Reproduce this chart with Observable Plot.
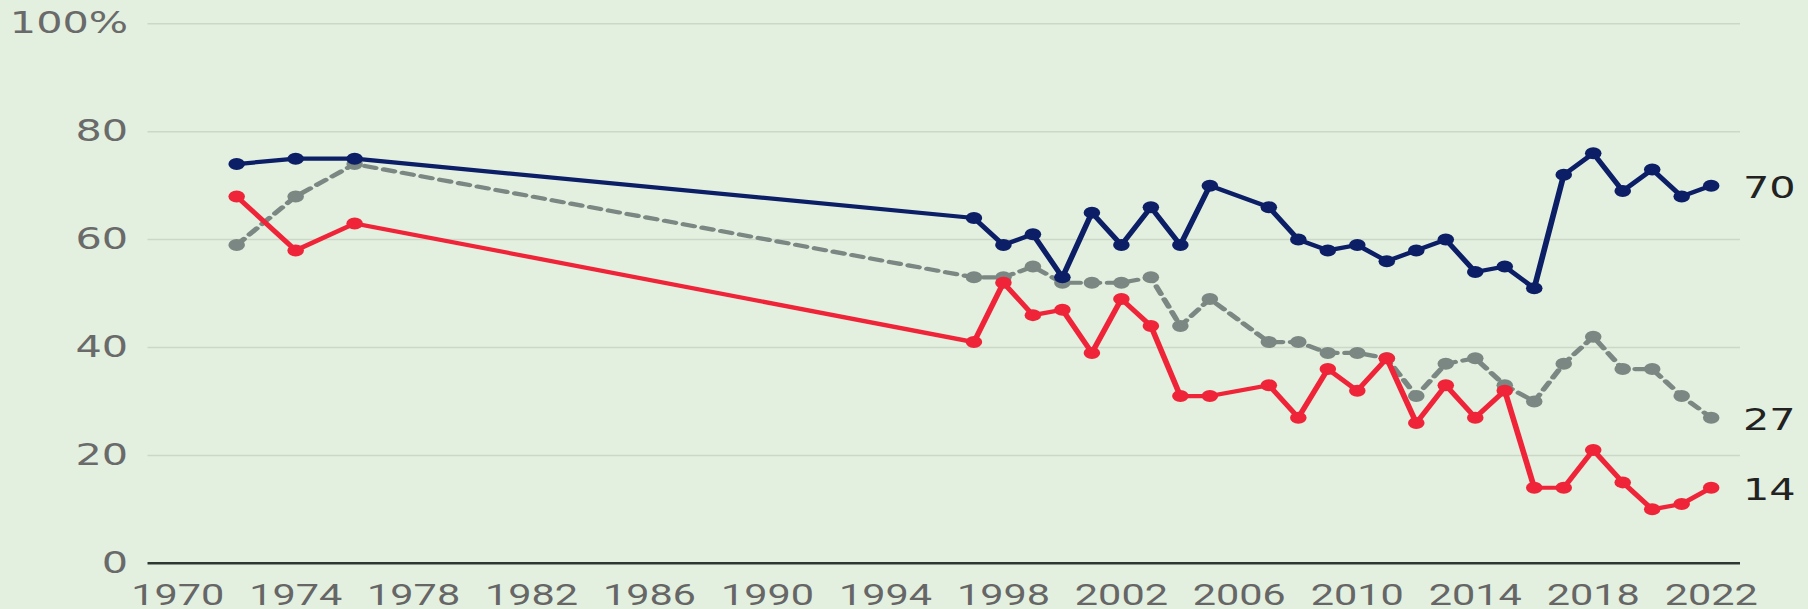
<!DOCTYPE html>
<html>
<head>
<meta charset="utf-8">
<script src="https://cdn.jsdelivr.net/npm/d3@7"></script>
<script src="https://cdn.jsdelivr.net/npm/@observablehq/plot@0.6"></script>
<style>
  html, body { margin: 0; padding: 0; background: #e3f0df; }
  #chart svg { display: block; }
</style>
</head>
<body>
<div id="chart"></div>
<script>
// Survey years
const years = [1972, 1974, 1976, 1997, 1998, 1999, 2000, 2001, 2002, 2003, 2004, 2005,
  2007, 2008, 2009, 2010, 2011, 2012, 2013, 2014, 2015, 2016, 2017, 2018, 2019, 2020, 2021, 2022];
// Series values (%)
const democrats = [74, 75, 75, 64, 59, 61, 53, 65, 59, 66, 59, 70,
  66, 60, 58, 59, 56, 58, 60, 54, 55, 51, 72, 76, 69, 73, 68, 70];
const independents = [59, 68, 74, 53, 53, 55, 52, 52, 52, 53, 44, 49,
  41, 41, 39, 39, 38, 31, 37, 38, 33, 30, 37, 42, 36, 36, 31, 27];
const republicans = [68, 58, 63, 41, 52, 46, 47, 39, 49, 44, 31, 31,
  33, 27, 36, 32, 38, 26, 33, 27, 32, 14, 14, 21, 15, 10, 11, 14];
// Axis ticks
const xTicks = [1970, 1974, 1978, 1982, 1986, 1990, 1994, 1998, 2002, 2006, 2010, 2014, 2018, 2022];
const yTicks = [0, 20, 40, 60, 80, 100];

const seriesNames = ["Independents", "Republicans", "Democrats"];
const seriesValues = [independents, republicans, democrats];
const seriesColors = ["#7b8782", "#ef2439", "#0b1e66"];

const rowsFor = (vals, name) => years.map((yr, i) => ({ year: yr, value: vals[i], series: name }));
const allRows = seriesNames.map((n, k) => rowsFor(seriesValues[k], n));
const endRows = allRows.map(rows => rows[rows.length - 1]);

const S = 1.38;               // horizontal stretch of the original artwork
const W = Math.round(1808 / S);

const lineMarks = allRows.flatMap((rows, k) => [
  Plot.line(rows, {
    x: "year", y: "value", stroke: seriesColors[k], strokeWidth: 4.2,
    strokeDasharray: k === 0 ? "8,6" : null
  }),
  Plot.dot(rows, { x: "year", y: "value", r: 6, fill: seriesColors[k] })
]);

const chart = Plot.plot({
  width: W,
  height: 609,
  marginTop: 23.3,
  marginBottom: 46.2,
  marginLeft: 147.5 / S,
  marginRight: 68 / S,
  style: { background: "#e3f0df", fontFamily: "DejaVu Sans", color: "#666666", overflow: "visible" },
  x: { domain: [1969, 2023] },
  y: { domain: [0, 100] },
  marks: [
    Plot.ruleY(yTicks.filter(d => d > 0), { stroke: "#cbd8c7", strokeWidth: 1.5 }),
    Plot.axisY(yTicks, {
      tickSize: 0, tickPadding: 20 / S, fontSize: 30, label: null,
      fill: "#6a6a6a", fontFamily: "DejaVu Sans",
      tickFormat: d => d === 100 ? "100%" : String(d)
    }),
    Plot.axisX(xTicks, {
      tickSize: 0, tickPadding: 20, fontSize: 30, label: null,
      fill: "#666666", fontFamily: "Roboto",
      tickFormat: d => String(d)
    }),
    Plot.ruleY([0], { stroke: "#2e3833", strokeWidth: 2.5 }),
    ...lineMarks,
    Plot.text(endRows, {
      x: "year", y: "value", text: d => String(d.value),
      dx: 23, dy: 3, textAnchor: "start", fontSize: 30,
      fontFamily: "DejaVu Sans", fill: "#222222"
    })
  ]
});

chart.setAttribute("width", 1808);
chart.setAttribute("height", 609);
chart.setAttribute("preserveAspectRatio", "none");
chart.style.width = "1808px";
chart.style.height = "609px";
chart.style.maxWidth = "none";
document.getElementById("chart").appendChild(chart);
</script>
</body>
</html>
